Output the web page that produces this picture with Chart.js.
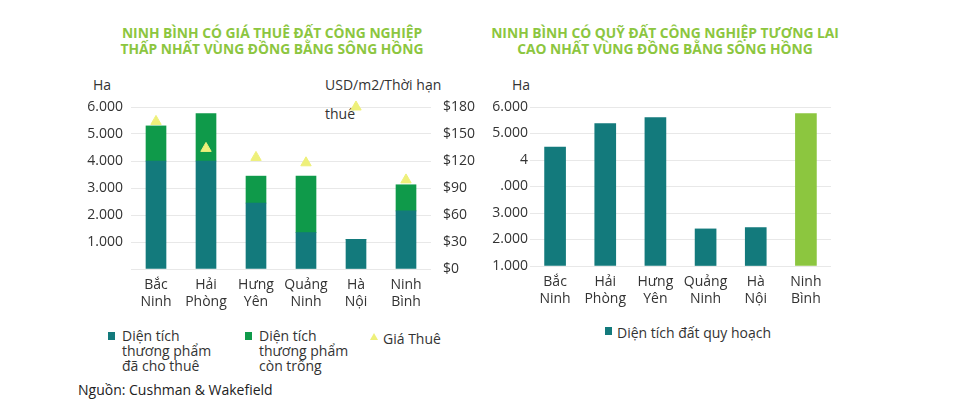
<!DOCTYPE html>
<html>
<head>
<meta charset="utf-8">
<script src="https://cdn.jsdelivr.net/npm/chart.js@4/dist/chart.umd.min.js"></script>
<style>
  body { margin: 0; background: #fff; font-family: "Open Sans", sans-serif; color: #333; }
  #page { position: relative; width: 969px; height: 409px; overflow: hidden; }
  .abs { position: absolute; white-space: nowrap; }
  .title { color: #8cc63f; font-weight: 700; font-size: 13.8px; line-height: 16px; text-align: center; }
  .lbl { font-size: 14px; color: #333; }
  .leg { font-size: 14px; line-height: 15px; color: #333; }
  .sq { position: absolute; width: 7px; height: 8px; }
</style>
</head>
<body>
<div id="page">
  <div class="abs title" style="left:72px; top:25px; width:400px;">NINH BÌNH CÓ GIÁ THUÊ ĐẤT CÔNG NGHIỆP<br>THẤP NHẤT VÙNG ĐỒNG BẰNG SÔNG HỒNG</div>
  <div class="abs title" style="left:465px; top:25px; width:400px;">NINH BÌNH CÓ QUỸ ĐẤT CÔNG NGHIỆP TƯƠNG LAI<br>CAO NHẤT VÙNG ĐỒNG BẰNG SÔNG HỒNG</div>

  <div class="abs lbl" style="left:93px; top:75px;">Ha</div>
  <div class="abs lbl" style="left:325px; top:75px;">USD/m2/Thời hạn</div>
  <div class="abs lbl" style="left:325px; top:104px;">thuê</div>
  <div class="abs lbl" style="left:512px; top:75px;">Ha</div>

  <div class="abs" style="left:80px; top:70px; width:400px; height:245px;"><canvas id="leftChart"></canvas></div>
  <div class="abs" style="left:480px; top:70px; width:370px; height:245px;"><canvas id="rightChart"></canvas></div>

  <!-- legends -->
  <div class="sq" style="left:108px; top:332px; background:#137a7c;"></div>
  <div class="abs leg" style="left:122px; top:328px;">Diện tích<br>thương phẩm<br>đã cho thuê</div>
  <div class="sq" style="left:245px; top:332px; background:#0f9a4a;"></div>
  <div class="abs leg" style="left:259px; top:328px;">Diện tích<br>thương phẩm<br>còn trống</div>
  <div class="abs" style="left:370px; top:333px; width:0; height:0; border-left:4px solid transparent; border-right:4px solid transparent; border-bottom:7px solid #eef07a;"></div>
  <div class="abs leg" style="left:383px; top:331px;">Giá Thuê</div>

  <div class="sq" style="left:605px; top:327px; background:#137a7c;"></div>
  <div class="abs leg" style="left:617px; top:325px;">Diện tích đất quy hoạch</div>

  <div class="abs leg" style="left:78px; top:382px; color:#222;">Nguồn: Cushman &amp; Wakefield</div>
</div>

<script>
// Provinces (two-line labels)
const provinces = [
    ['Bắc', 'Ninh'],
    ['Hải', 'Phòng'],
    ['Hưng', 'Yên'],
    ['Quảng', 'Ninh'],
    ['Hà', 'Nội'],
    ['Ninh', 'Bình']
];

// Left chart: industrial area (Ha) and rent (USD/m2/lease term)
const leasedArea = [4000, 4000, 2440, 1350, 1100, 2150];
const vacantArea = [1300, 1760, 1000, 2090, 0, 970];
const rentPrice = [164, 134, 124, 118, 180, 99];

// Right chart: planned industrial land (Ha)
const plannedArea = [4490, 5370, 5600, 1400, 1450, 5750];

// Axis tick labels
const leftTickLabels = ['', '1.000', '2.000', '3.000', '4.000', '5.000', '6.000'];
const rightTickLabels = ['1.000', '2.000', '3.000', '.000', '4', '5.000', '6.000'];
const priceTickLabels = ['$0', '$30', '$60', '$90', '$120', '$150', '$180'];

const TEAL = '#137a7c';
const GREEN = '#0f9a4a';
const LIGHT_GREEN = '#8cc63f';
const YELLOW = '#eef07a';
const GRID = '#e8e8e8';
const FONT = { family: 'Open Sans', size: 14 };

Chart.defaults.color = '#333';
Chart.defaults.font.family = 'Open Sans';

function fixWidth(w) {
    return (scale) => { scale.width = w; };
}
function fixHeight(h) {
    return (scale) => { scale.height = h; };
}

new Chart(document.getElementById('leftChart'), {
    type: 'bar',
    data: {
        labels: provinces,
        datasets: [
            {
                type: 'line',
                label: 'Giá Thuê',
                data: rentPrice,
                yAxisID: 'y1',
                showLine: false,
                clip: false,
                pointStyle: 'triangle',
                pointRadius: 6,
                pointBackgroundColor: YELLOW,
                pointBorderColor: YELLOW,
                order: 0
            },
            {
                label: 'Diện tích thương phẩm đã cho thuê',
                data: leasedArea,
                backgroundColor: TEAL,
                barThickness: 20,
                stack: 'area',
                order: 1
            },
            {
                label: 'Diện tích thương phẩm còn trống',
                data: vacantArea,
                backgroundColor: GREEN,
                barThickness: 20,
                stack: 'area',
                order: 1
            }
        ]
    },
    options: {
        responsive: true,
        maintainAspectRatio: false,
        animation: false,
        layout: { padding: { top: 37, bottom: 0, left: 0, right: 0 } },
        plugins: { legend: { display: false }, tooltip: { enabled: false } },
        scales: {
            x: {
                stacked: true,
                grid: { display: false },
                border: { display: false },
                ticks: { font: FONT, padding: 0, maxRotation: 0 },
                afterFit: fixHeight(46)
            },
            y: {
                stacked: true,
                min: 0,
                max: 6000,
                grid: { color: GRID, drawTicks: false },
                border: { display: false },
                ticks: {
                    stepSize: 1000,
                    padding: 8,
                    font: FONT,
                    callback: (v) => leftTickLabels[v / 1000]
                },
                afterFit: fixWidth(51)
            },
            y1: {
                position: 'right',
                min: 0,
                max: 180,
                grid: { display: false, drawTicks: false },
                border: { display: false },
                ticks: {
                    stepSize: 30,
                    padding: 12,
                    font: FONT,
                    callback: (v) => priceTickLabels[v / 30]
                },
                afterFit: fixWidth(49)
            }
        }
    }
});

new Chart(document.getElementById('rightChart'), {
    type: 'bar',
    data: {
        labels: provinces,
        datasets: [{
            label: 'Diện tích đất quy hoạch',
            data: plannedArea,
            backgroundColor: [TEAL, TEAL, TEAL, TEAL, TEAL, LIGHT_GREEN],
            barThickness: 21
        }]
    },
    options: {
        responsive: true,
        maintainAspectRatio: false,
        animation: false,
        layout: { padding: { top: 37, bottom: 0, left: 0, right: 19 } },
        plugins: { legend: { display: false }, tooltip: { enabled: false } },
        scales: {
            x: {
                grid: { display: false },
                border: { display: false },
                ticks: { font: FONT, padding: 0, maxRotation: 0 },
                afterFit: fixHeight(49)
            },
            y: {
                min: 0,
                max: 6000,
                grid: { color: GRID, drawTicks: false },
                border: { display: false },
                ticks: {
                    stepSize: 1000,
                    padding: 2,
                    font: FONT,
                    callback: (v) => rightTickLabels[v / 1000]
                },
                afterFit: fixWidth(50)
            }
        }
    }
});
</script>
</body>
</html>
